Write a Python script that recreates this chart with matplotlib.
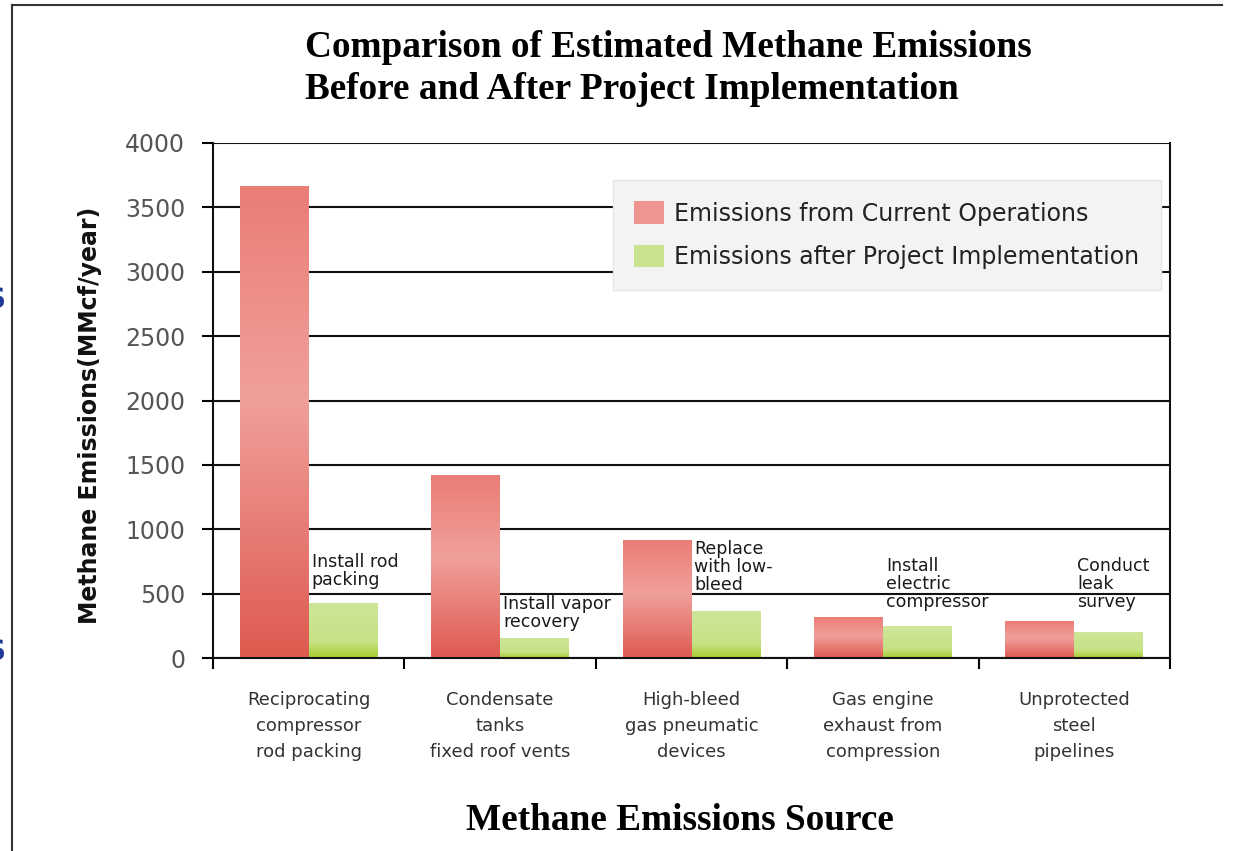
import numpy as np
import matplotlib
matplotlib.use("Agg")
import matplotlib.pyplot as plt
from matplotlib.colors import LinearSegmentedColormap
from matplotlib.patches import Patch

# data
sources = ["Reciprocating\ncompressor\nrod packing",
           "Condensate\ntanks\nfixed roof vents",
           "High-bleed\ngas pneumatic\ndevices",
           "Gas engine\nexhaust from\ncompression",
           "Unprotected\nsteel\npipelines"]
current = [3665, 1415, 915, 315, 280]
after = [420, 150, 365, 245, 195]
projects = ["Install rod\npacking",
            "Install vapor\nrecovery",
            "Replace\nwith low-\nbleed",
            "Install\nelectric\ncompressor",
            "Conduct\nleak\nsurvey"]
series_names = ["Emissions from Current Operations",
                "Emissions after Project Implementation"]

# layout / style
note_dy = [15, 8, 17, 15, 22]      # gap (px) between bar top and note
bar_w = 0.36
red_cmap = LinearSegmentedColormap.from_list(
    "red", [(0, "#ea7d75"), (0.45, "#f0a09b"), (1, "#de5a50")])
green_cmap = LinearSegmentedColormap.from_list(
    "green", [(0, "#cde699"), (0.7, "#c6e285"), (1, "#a5ce30")])
grad = np.linspace(0, 1, 256).reshape(-1, 1)

fig = plt.figure(figsize=(12.34, 8.51), dpi=100)
ax = fig.add_axes([213 / 1234, 193 / 851, 957 / 1234, 515 / 851])

x = np.arange(len(sources))
red_bars = ax.bar(x - bar_w / 2, current, bar_w, color="#ee958f", zorder=1)
green_bars = ax.bar(x + bar_w / 2, after, bar_w, color="#c8e38e", zorder=1)


def fill_gradient(bars, cmap):
    for b in bars:
        x0, y0 = b.get_xy()
        ax.imshow(grad, cmap=cmap, aspect="auto", origin="upper",
                  extent=(x0, x0 + b.get_width(), y0, y0 + b.get_height()),
                  zorder=2, interpolation="bilinear")


fill_gradient(red_bars, red_cmap)
fill_gradient(green_bars, green_cmap)

# notes above the green bars
for b, txt, dy in zip(green_bars, projects, note_dy):
    ax.annotate(txt, xy=(b.get_x(), b.get_height()), xytext=(3, dy),
                textcoords="offset pixels", ha="left", va="bottom",
                fontsize=12.5, color="#1a1a1a", linespacing=1.0, zorder=4)

ax.set_xlim(-0.5, len(sources) - 0.5)
ax.set_ylim(0, 4000)
ax.set_yticks(np.arange(0, 4001, 500))
ax.set_xticks(np.arange(len(sources) + 1) - 0.5)
ax.set_xticklabels([])
ax.set_xticks(x, minor=True)
ax.set_xticklabels(sources, minor=True, fontsize=13, color="#333333",
                   linespacing=1.55)
ax.tick_params(axis="x", which="major", direction="out", length=8, width=1.5)
ax.tick_params(axis="x", which="minor", length=0, pad=24)
ax.tick_params(axis="y", direction="out", length=8, width=1.5, pad=12,
               labelsize=17, labelcolor="#555555")

ax.set_axisbelow(True)
ax.grid(axis="y", color="#111111", linewidth=1.5)
ax.grid(axis="x", visible=False)
for side in ["left", "right", "bottom"]:
    ax.spines[side].set_linewidth(1.5)
    ax.spines[side].set_color("#111111")
ax.spines["top"].set_visible(False)

handles = [Patch(facecolor="#ee958f", edgecolor="none"),
           Patch(facecolor="#c8e38e", edgecolor="none")]
leg = ax.legend(handles, series_names, loc="upper left",
                bbox_to_anchor=(0.418, 0.928), fontsize=17,
                handlelength=1.25, handleheight=1.1, handletextpad=0.45,
                labelspacing=0.8, borderpad=0.9, borderaxespad=0,
                fancybox=False, framealpha=1, labelcolor="#222222")
leg.get_frame().set_facecolor("#f3f3f3")
leg.get_frame().set_edgecolor("#e6e6e6")
leg.set_zorder(5)

fig.text(90 / 1234, 1 - 415 / 851, "Methane Emissions(MMcf/year)",
         rotation=90, ha="center", va="center", fontsize=17,
         fontweight="bold", color="#111111")

fig.text(305 / 1234, 1 - 30 / 851,
         "Comparison of Estimated Methane Emissions\nBefore and After Project Implementation",
         ha="left", va="top", fontsize=26.8, fontweight="bold",
         family="Liberation Serif", linespacing=1.25)
fig.text(680 / 1234, 1 - 820 / 851, "Methane Emissions Source",
         ha="center", va="center", fontsize=26.8, fontweight="bold",
         family="Liberation Serif")

# page frame and cut-off text on the left edge
fig.add_artist(plt.Line2D([12 / 1234, 12 / 1234], [0, 1 - 5 / 851],
                          color="#333333", linewidth=1.5))
fig.add_artist(plt.Line2D([12 / 1234, 1222 / 1234], [1 - 5 / 851, 1 - 5 / 851],
                          color="#333333", linewidth=1.5))
for yy in [300, 652]:
    fig.text(-4 / 1234, 1 - yy / 851, "S", ha="center", va="center",
             fontsize=20, fontweight="bold", color="#1f3c9c")

fig.savefig("out.png", dpi=100)
